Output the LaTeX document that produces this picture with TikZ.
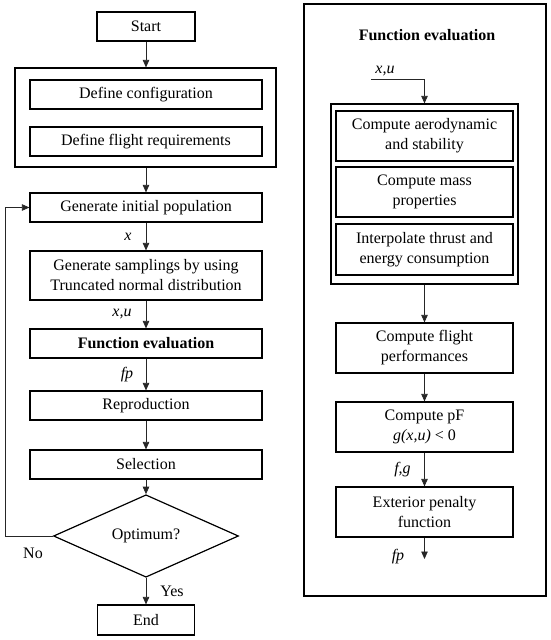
\documentclass[tikz,border=0pt]{standalone}
\usepackage{fontspec}
\setmainfont{Liberation Serif}
\usetikzlibrary{arrows.meta,shapes.geometric}
\begin{document}
\begin{tikzpicture}[x=1pt,y=-1pt,
  box/.style={draw, line width=1.2pt, rectangle, inner sep=0pt, align=center, font=\fontsize{16}{20}\selectfont},
  grp/.style={draw, line width=1.2pt, rectangle, inner sep=0pt},
  arr/.style={-{Triangle[length=7.5pt,width=6.5pt]}, line width=0.75pt, draw=black!85},
  lbl/.style={font=\fontsize{16}{20}\selectfont\itshape, inner sep=0pt},
  txt/.style={font=\fontsize{16}{20}\selectfont, inner sep=0pt}]
\useasboundingbox (0,0) rectangle (550,640);
% left column
\node[box, minimum width=98, minimum height=29] (start) at (146,26.5) {Start};
\node[grp, minimum width=261, minimum height=99] (outer) at (145.5,117.5) {};
\node[box, minimum width=232, minimum height=29] (defcfg) at (146,94.5) {Define configuration};
\node[box, minimum width=232, minimum height=29] (defreq) at (146,141.5) {Define flight requirements};
\node[box, minimum width=232, minimum height=29] (gen) at (146,207.5) {Generate initial population};
\node[box, minimum width=232, minimum height=49] (samp) at (146,275.5) {Generate samplings by using\\Truncated normal distribution};
\node[box, minimum width=232, minimum height=29, font=\fontsize{16}{20}\selectfont\bfseries] (fe) at (146,343.5) {Function evaluation};
\node[box, minimum width=232, minimum height=29] (rep) at (146,405.5) {Reproduction};
\node[box, minimum width=232, minimum height=29] (sel) at (146,464.5) {Selection};
\node[box, shape=diamond, minimum width=185, minimum height=67] (dia) at (146,536) {Optimum?};
\node[box, minimum width=97, minimum height=30] (end) at (146,620) {End};
\coordinate (fbk) at (5,536);

\draw[arr] (start.south) -- (start.south |- outer.north);
\draw[arr] (outer.south -| gen.north) -- (gen.north);
\draw[arr] (gen) -- (samp) node[lbl, midway, xshift=-18] (lx) {x};
\draw[arr] (samp) -- (fe) node[lbl, midway, xshift=-24] (lxu) {x,u};
\draw[arr] (fe) -- (rep) node[lbl, midway, xshift=-19] (lfp) {fp};
\draw[arr] (rep) -- (sel);
\draw[arr] (sel) -- (dia);
\draw[arr] (dia) -- (end) node[txt, midway, xshift=26, yshift=0] (lyes) {Yes};
\draw[arr] (dia.west) -- (fbk) |- (gen.west);
\node[txt] (lno) at (33,553) {No};

% right panel
\node[grp, minimum width=242, minimum height=592] (panel) at (425,300) {};
\node[txt, font=\fontsize{16}{20}\selectfont\bfseries] (title) at (427,35) {Function evaluation};
\node[grp, minimum width=187, minimum height=180] (grpbox) at (424.5,194) {};
\node[box, minimum width=177, minimum height=50] (aero) at (424.5,136) {Compute aerodynamic\\and stability};
\node[box, minimum width=177, minimum height=50] (mass) at (424.5,192) {Compute mass\\properties};
\node[box, minimum width=177, minimum height=51] (interp) at (424.5,249.5) {Interpolate thrust and\\energy consumption};
\node[box, minimum width=177, minimum height=50] (flight) at (424.5,348) {Compute flight\\performances};
\node[box, minimum width=177, minimum height=50] (pf) at (424.5,427) {Compute pF\\\textit{g(x,u)} \textless{} 0};
\node[box, minimum width=177, minimum height=50] (ext) at (424.5,512) {Exterior penalty\\function};
\coordinate (xuin) at (371,79);
\coordinate (fpout) at (424.5,559);
\node[lbl] (rxu) at (385,71) {x,u};
\draw[arr] (xuin) -- (xuin -| grpbox.north) -- (grpbox.north);
\draw[arr] (grpbox.south) -- (flight.north);
\draw[arr] (flight) -- (pf);
\draw[arr] (pf) -- (ext) node[lbl, midway, xshift=-22] (rfg) {f,g};
\draw[arr] (ext.south) -- (fpout);
\node[lbl] (rfp) at (398,557) {fp};
\end{tikzpicture}
\end{document}
